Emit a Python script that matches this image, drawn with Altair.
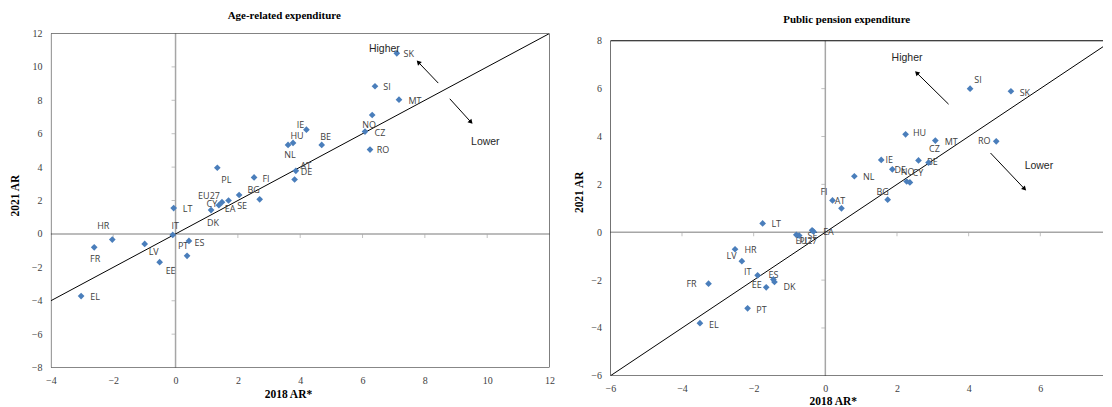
import math
import altair as alt
import pandas as pd

# ---------------- data ----------------
COUNTRIES = ["SK", "SI", "MT", "NO", "CZ", "RO", "BE", "IE", "HU", "NL", "AT", "DE", "FI", "PL",
             "BG", "SE", "EA", "EU27", "CY", "DK", "LT", "IT", "ES", "PT", "LV", "HR", "FR", "EE", "EL"]

AGE_2018 = [7.10, 6.40, 7.17, 6.31, 6.08, 6.24, 4.69, 4.20, 3.77, 3.61, 3.86, 3.82, 2.52, 1.34,
            2.70, 2.04, 1.70, 1.49, 1.39, 1.14, -0.06, -0.09, 0.43, 0.37, -0.99, -2.03, -2.61, -0.51, -3.03]
AGE_2021 = [10.81, 8.84, 8.04, 7.12, 6.13, 5.05, 5.33, 6.24, 5.45, 5.33, 3.78, 3.26, 3.38, 3.96,
            2.07, 2.33, 2.00, 1.90, 1.72, 1.43, 1.55, -0.06, -0.42, -1.31, -0.60, -0.34, -0.80, -1.69, -3.72]

PEN_2018 = [5.18, 4.04, 3.07, 2.27, 2.88, 4.77, 2.60, 1.56, 2.24, 0.81, 0.45, 1.87, 0.20, -0.73,
            1.74, -0.37, -0.33, -0.81, 2.36, -1.42, -1.75, -1.89, -1.45, -2.17, -2.33, -2.52, -3.26, -1.65, -3.50]
PEN_2021 = [5.89, 6.00, 3.83, 2.12, 2.91, 3.80, 3.00, 3.02, 4.09, 2.34, 1.00, 2.63, 1.33, -0.14,
            1.36, 0.08, 0.03, -0.11, 2.08, -2.08, 0.37, -1.80, -1.97, -3.18, -1.21, -0.71, -2.15, -2.30, -3.80]

AGE_X_TICKS = [-4, -2, 0, 2, 4, 6, 8, 10, 12]
AGE_Y_TICKS = [-8, -6, -4, -2, 0, 2, 4, 6, 8, 10, 12]
PEN_X_TICKS = [-6, -4, -2, 0, 2, 4, 6, 8]
PEN_Y_TICKS = [-6, -4, -2, 0, 2, 4, 6, 8]

TITLES = ["Age-related expenditure", "Public pension expenditure"]

WORDS = ["Higher", "Lower"]
AGE_WORD_X = [6.70, 9.94]
AGE_WORD_Y = [11.10, 5.51]
PEN_WORD_X = [2.28, 5.96]
PEN_WORD_Y = [7.30, 2.76]

# arrows: tail -> head
AGE_ARROW_X1 = [8.43, 8.80]
AGE_ARROW_Y1 = [9.03, 8.09]
AGE_ARROW_X2 = [7.79, 9.48]
AGE_ARROW_Y2 = [10.28, 6.69]
PEN_ARROW_X1 = [3.44, 4.61]
PEN_ARROW_Y1 = [5.35, 3.31]
PEN_ARROW_X2 = [2.55, 5.56]
PEN_ARROW_Y2 = [6.66, 1.81]

# ---------------- styles ----------------
# label offsets in pixels (right, down) from each point
AGE_LABEL_OFFSET = {
    "SK": (12, 1), "SI": (12, 1), "MT": (16, 1), "NO": (-3, 10), "CZ": (15, 1), "RO": (13, 0),
    "BE": (4, -8), "IE": (-6, -5), "HU": (4, -7), "NL": (2, 10), "AT": (10, -5), "DE": (12, -7),
    "FI": (12, 2), "PL": (9, 12), "BG": (-6, -9), "SE": (3, 11), "EA": (1.5, 8.5), "EU27": (-13, -6.5),
    "CY": (-7, -1), "DK": (2, 13), "LT": (14, 1), "IT": (2.5, -8.5), "ES": (10.5, 2), "PT": (-4, -9.5),
    "LV": (9, 8), "HR": (-9, -13.7), "FR": (1, 11.6), "EE": (11, 9), "EL": (14, 1),
}
PEN_LABEL_OFFSET = {
    "SI": (8, -9), "SK": (14, 2), "HU": (14, -1), "MT": (16, 1), "RO": (-12, 0), "CZ": (6, -14),
    "BE": (14, 2), "IE": (8, 0), "DE": (8, 1), "NO": (1, -10), "CY": (8, -9), "NL": (14.5, 1),
    "BG": (-5, -7.5), "FI": (-8.5, -8.5), "AT": (-1.5, -7), "EA": (15, 0.6), "SE": (0.4, 5.7),
    "EU27": (10, 6), "PL": (5, 5), "LT": (13.6, 1), "HR": (15.5, 1), "LV": (-10.3, -5),
    "IT": (-10, -3.4), "ES": (0, -4), "DK": (15, 5.4), "EE": (-9.6, -2), "FR": (-17, 0),
    "PT": (14, 1.6), "EL": (14, 2),
}

SERIF = "Liberation Serif"
SANS = "Liberation Sans"
LABEL_FONT = "Open Sans"
BLUE = "#4a7ebb"
GREY = "#a6a6a6"


def panel(title, xs, ys, offsets, xticks, yticks, width, height, top_extra, right_cut,
          title_x, title_y, xtitle_x, xtitle_y, ytitle_x, ytitle_y,
          wx, wy, ax1, ay1, ax2, ay2):
    xmin, xmax = xticks[0], xticks[-1]
    ymin, ymax = yticks[0], yticks[-1]
    ppx = width / (xmax - xmin)
    ppy = height / (ymax - ymin)
    ytop = ymax + top_extra / ppy
    xright = xmax - right_cut / ppx
    vis_xticks = [t for t in xticks if t <= xright + 1e-9]
    xscale = alt.Scale(domain=[xmin, xright], nice=False, zero=False)
    yscale = alt.Scale(domain=[ymin, ytop], nice=False, zero=False)
    xaxis = alt.Axis(values=vis_xticks, grid=False, ticks=False, tickSize=0, domain=False,
                     labelFont=SERIF, labelFontSize=10, labelColor="#404040", labelPadding=8,
                     labelFlush=False, labelOverlap=False,
                     title="2018 AR*", titleFont=SERIF, titleFontSize=11.5, titleFontWeight="bold",
                     titleColor="black", titleX=xtitle_x, titleY=xtitle_y, titleBaseline="middle")
    yaxis = alt.Axis(values=yticks, grid=False, ticks=False, tickSize=0, domain=False,
                     labelFont=SERIF, labelFontSize=10, labelColor="#404040", labelPadding=9,
                     labelFlush=False, labelOverlap=False,
                     title="2021 AR", titleFont=SERIF, titleFontSize=11.5, titleFontWeight="bold",
                     titleColor="black", titleX=ytitle_x, titleY=ytitle_y, titleBaseline="middle")

    def X(f):
        return alt.X(f, type="quantitative", scale=xscale, axis=xaxis)

    def Y(f):
        return alt.Y(f, type="quantitative", scale=yscale, axis=yaxis)

    frame = pd.DataFrame({"x": [xmin], "x2": [xmax], "y": [ymin], "y2": [ymax]})
    border = alt.Chart(frame).mark_rect(fillOpacity=0, stroke="black", strokeWidth=1,
                                        clip=True).encode(
        x=X("x"), x2="x2", y=Y("y"), y2="y2")

    zero = pd.DataFrame({"x": [0], "y": [0], "y0": [ymin], "y1": [ymax]})
    vline = alt.Chart(zero).mark_rule(color=GREY, strokeWidth=1.5).encode(
        x=X("x"), y=Y("y0"), y2="y1")
    hline = alt.Chart(zero).mark_rule(color=GREY, strokeWidth=1.5).encode(y=Y("y"))

    xt = pd.DataFrame({"x": [t for t in vis_xticks if t not in (0, xmin, xmax)]})
    xt["y"] = 0
    yt = pd.DataFrame({"y": [t for t in yticks if t not in (0, ymin, ymax)]})
    yt["x"] = 0
    xtick_marks = alt.Chart(xt).mark_tick(orient="vertical", size=4, thickness=1, color=GREY,
                                          yOffset=2).encode(x=X("x"), y=Y("y"))
    ytick_marks = alt.Chart(yt).mark_tick(orient="horizontal", size=4, thickness=1, color=GREY,
                                          xOffset=-2).encode(x=X("x"), y=Y("y"))

    diag = pd.DataFrame({"x": [xmin, xmax], "y": [xmin, xmax]})
    diag_line = alt.Chart(diag).mark_line(color="black", strokeWidth=1, clip=True).encode(
        x=X("x"), y=Y("y"))

    df = pd.DataFrame({"c": COUNTRIES, "x": xs, "y": ys})
    df["lx"] = [x + offsets[c][0] / ppx for c, x in zip(df["c"], df["x"])]
    df["ly"] = [y - offsets[c][1] / ppy for c, y in zip(df["c"], df["y"])]

    labels = alt.Chart(df).mark_text(font=LABEL_FONT, fontSize=9, color="#404040",
                                     align="center", baseline="middle").encode(
        x=X("lx"), y=Y("ly"), text="c:N")
    points = alt.Chart(df).mark_point(shape="diamond", filled=True, size=45, color=BLUE,
                                      opacity=1).encode(x=X("x"), y=Y("y"))

    wd = pd.DataFrame({"t": WORDS, "x": wx, "y": wy})
    words = alt.Chart(wd).mark_text(font=SANS, fontSize=10.5, color="#262626",
                                    align="center", baseline="middle").encode(
        x=X("x"), y=Y("y"), text="t:N")

    ad = pd.DataFrame({"x": ax1, "y": ay1, "x2": ax2, "y2": ay2})
    ad["angle"] = [
        (math.degrees(math.atan2((b - a) * ppx, (d - c) * ppy)) + 360) % 360
        for a, b, c, d in zip(ad["x"], ad["x2"], ad["y"], ad["y2"])
    ]
    arrow_lines = alt.Chart(ad).mark_rule(color="black", strokeWidth=1).encode(
        x=X("x"), y=Y("y"), x2="x2", y2="y2")
    arrow_heads = alt.Chart(ad).mark_point(shape="triangle-up", filled=True, size=28,
                                           color="black", opacity=1).encode(
        x=X("x2"), y=Y("y2"), angle=alt.Angle("angle:Q", scale=None))

    td = pd.DataFrame({"t": [title]})
    title_mark = alt.Chart(td).mark_text(font=SERIF, fontSize=11, fontWeight="bold",
                                         color="black", align="center",
                                         baseline="top").encode(
        x=alt.value(title_x), y=alt.value(title_y), text="t:N")

    layers = [vline, hline, xtick_marks, ytick_marks, diag_line, border, labels, points, words,
              arrow_lines, arrow_heads, title_mark]
    return alt.layer(*layers).properties(width=width - right_cut, height=height + top_extra)


left = panel(TITLES[0], AGE_2018, AGE_2021, AGE_LABEL_OFFSET,
             AGE_X_TICKS, AGE_Y_TICKS, 500, 335, 0, 0,
             234, -23.7, 237.7, 27.5, -35, 162, AGE_WORD_X, AGE_WORD_Y,
             AGE_ARROW_X1, AGE_ARROW_Y1, AGE_ARROW_X2, AGE_ARROW_Y2)
right = panel(TITLES[1], PEN_2018, PEN_2021, PEN_LABEL_OFFSET,
              PEN_X_TICKS, PEN_Y_TICKS, 503, 336, 7.3, 9,
              237, -19.7, 223, 25.3, -31, 158.7, PEN_WORD_X, PEN_WORD_Y,
              PEN_ARROW_X1, PEN_ARROW_Y1, PEN_ARROW_X2, PEN_ARROW_Y2)

chart = alt.hconcat(left, right, spacing=19).properties(
    padding={"left": 2, "top": 1, "right": 0, "bottom": 0},
    background="white",
).configure_view(strokeOpacity=0)

chart.save("out.html", embed_options={"renderer": "svg", "actions": False})
